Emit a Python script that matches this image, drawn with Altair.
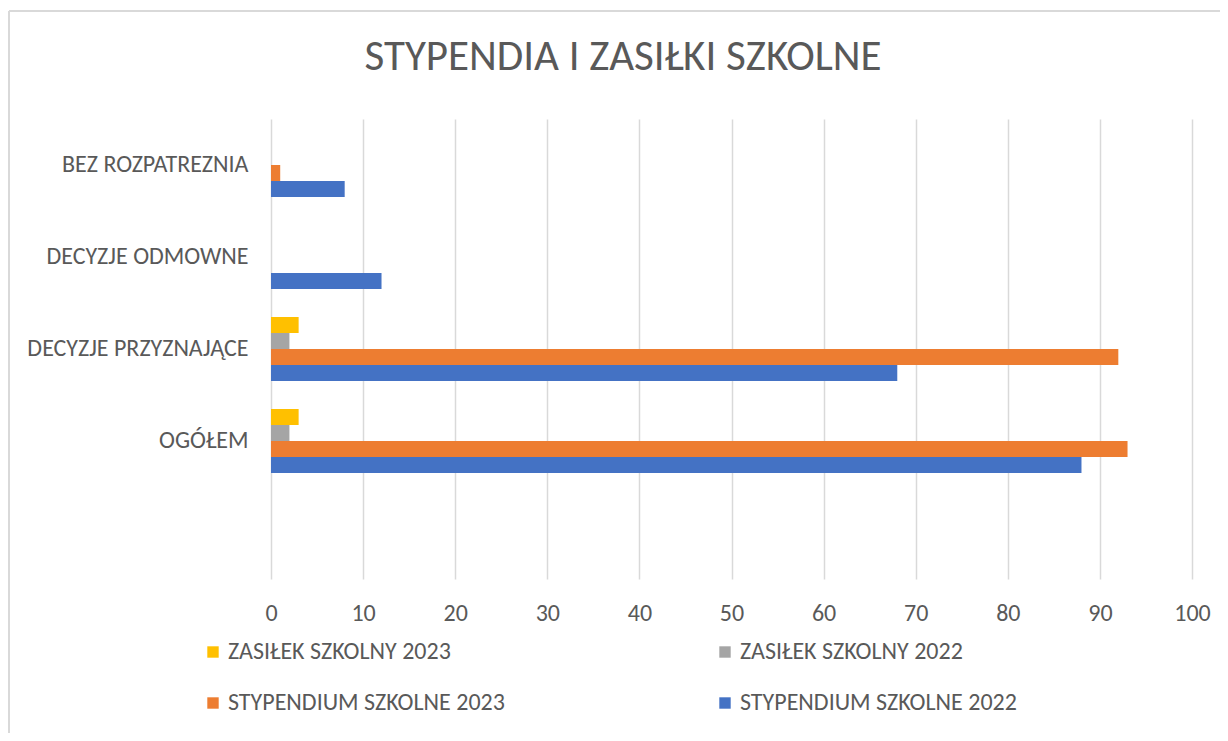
import altair as alt
import pandas as pd

categories = ["BEZ ROZPATREZNIA", "DECYZJE ODMOWNE", "DECYZJE PRZYZNAJĄCE", "OGÓŁEM", " "]
row_categories = ["BEZ ROZPATREZNIA", "DECYZJE ODMOWNE", "DECYZJE PRZYZNAJĄCE", "OGÓŁEM"]
series = ["ZASIŁEK SZKOLNY 2023", "ZASIŁEK SZKOLNY 2022",
          "STYPENDIUM SZKOLNE 2023", "STYPENDIUM SZKOLNE 2022"]
colors = ["#FFC000", "#A5A5A5", "#ED7D31", "#4472C4"]
# legend is laid out column by column: column 1 = 2023 entries, column 2 = 2022 entries
legend_order = ["ZASIŁEK SZKOLNY 2023", "STYPENDIUM SZKOLNE 2023",
                "ZASIŁEK SZKOLNY 2022", "STYPENDIUM SZKOLNE 2022"]
legend_colors = ["#FFC000", "#ED7D31", "#A5A5A5", "#4472C4"]

zasilek_2023 = [0, 0, 3, 3]
zasilek_2022 = [0, 0, 2, 2]
stypendium_2023 = [1, 0, 92, 93]
stypendium_2022 = [8, 12, 68, 88]
x_ticks = [0, 10, 20, 30, 40, 50, 60, 70, 80, 90, 100]
title_text = "STYPENDIA I ZASIŁKI SZKOLNE"

FONT = "Carlito, Calibri, 'Open Sans', sans-serif"
TXT = "#595959"
GRID = "#d9d9d9"
FS = 24

rows = []
for s, vals in zip(series, [zasilek_2023, zasilek_2022, stypendium_2023, stypendium_2022]):
    for c, v in zip(row_categories, vals):
        rows.append({"kategoria": c, "seria": s, "wartosc": v})
df = pd.DataFrame(rows)

bars = alt.Chart(df).mark_bar().encode(
    x=alt.X("wartosc:Q",
            scale=alt.Scale(domain=[0, 100], nice=False),
            axis=alt.Axis(values=x_ticks, title=None, grid=True, gridColor=GRID, gridWidth=1.5,
                          domain=False, ticks=False, labelFontSize=FS, labelColor=TXT,
                          labelFont=FONT, labelPadding=22, labelFlush=False)),
    y=alt.Y("kategoria:N",
            scale=alt.Scale(domain=categories, paddingInner=0.304, paddingOuter=0.152),
            axis=alt.Axis(title=None, domain=False, ticks=False, labelFontSize=FS,
                          labelColor=TXT, labelFont=FONT, labelPadding=23, labelLimit=400)),
    yOffset=alt.YOffset("seria:N", scale=alt.Scale(domain=series)),
    color=alt.Color("seria:N",
                    scale=alt.Scale(domain=legend_order, range=legend_colors),
                    legend=alt.Legend(orient="none", legendX=-70, legendY=521, columns=2,
                                      symbolType="square", symbolSize=130, symbolStrokeWidth=0,
                                      labelFontSize=FS, labelColor=TXT, labelFont=FONT,
                                      columnPadding=208, rowPadding=27, title=None,
                                      labelLimit=500, labelOffset=3)),
)

frame_df = pd.DataFrame({"t": [title_text]})
left_line = alt.Chart(frame_df).mark_rule(color=GRID, strokeWidth=2).encode(
    x=alt.value(-262), y=alt.value(-108), y2=alt.value(700))
top_line = alt.Chart(frame_df).mark_rule(color=GRID, strokeWidth=2).encode(
    x=alt.value(-262), x2=alt.value(1000), y=alt.value(-108))
title = alt.Chart(frame_df).mark_text(
    font=FONT, fontSize=43, color=TXT, align="center", baseline="alphabetic"
).encode(text="t:N", x=alt.value(352), y=alt.value(-49))

chart = alt.layer(bars, left_line, top_line, title).properties(
    width=921,
    height=460,
    autosize=alt.AutoSizeParams(type="none"),
    padding={"left": 263, "top": 111, "right": 28, "bottom": 154},
).configure_view(stroke=None)

chart.save("out.html", embed_options={"renderer": "svg", "actions": False})
